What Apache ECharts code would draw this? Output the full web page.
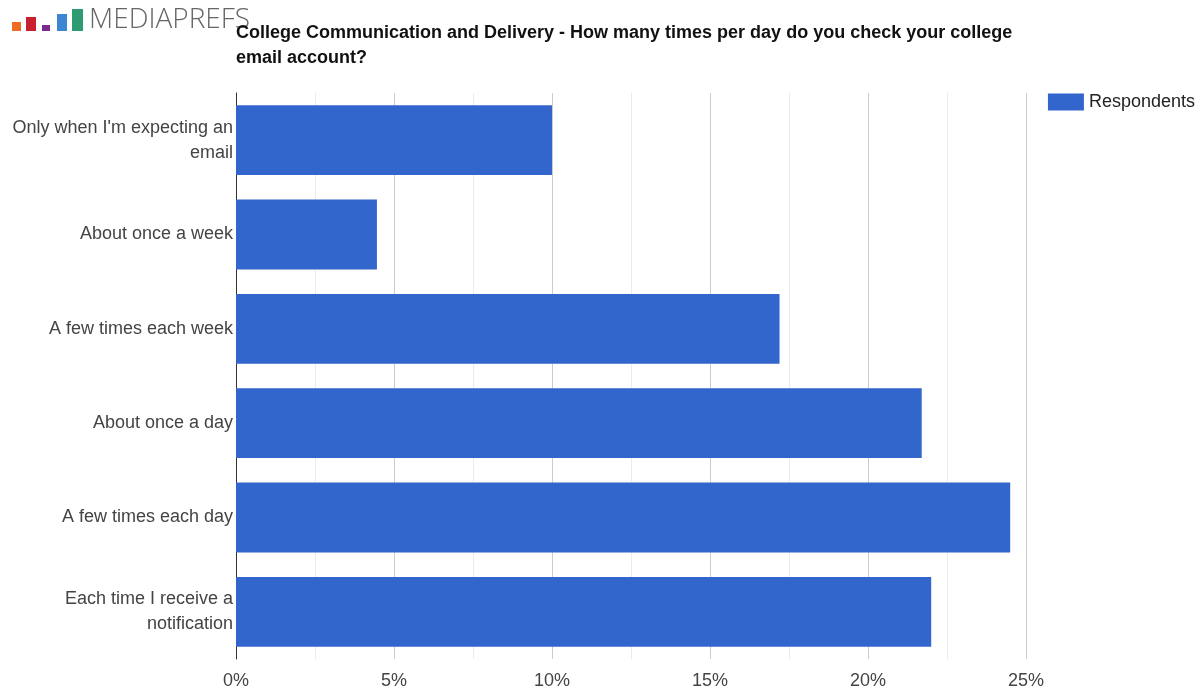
<!DOCTYPE html>
<html>
<head>
<meta charset="utf-8">
<script src="https://cdn.jsdelivr.net/npm/echarts@6/dist/echarts.min.js"></script>
<style>
html,body{margin:0;padding:0;background:#fff;}
#chart{width:1200px;height:690px;}
</style>
</head>
<body>
<div id="chart"></div>
<script>
// Answer options (top to bottom) and share of respondents in percent
const categories = [
  "Only when I'm expecting an\nemail",
  "About once a week",
  "A few times each week",
  "About once a day",
  "A few times each day",
  "Each time I receive a\nnotification"
];
const respondents = [10.0, 4.46, 17.2, 21.7, 24.5, 22.0];
const seriesName = "Respondents";
const titleText = "College Communication and Delivery - How many times per day do you check your college\nemail account?";
const brandText = "MEDIAPREFS";

const chart = echarts.init(document.getElementById('chart'));

// Logo: five small coloured bars followed by the brand name
const logoBars = [
  {x: 12, y: 22, w: 9, h: 9, c: '#ef6c23'},
  {x: 26, y: 17, w: 10, h: 14, c: '#c8202f'},
  {x: 42, y: 25, w: 8, h: 6, c: '#7b2b8f'},
  {x: 57, y: 14, w: 10, h: 17, c: '#3b86d3'},
  {x: 72, y: 9, w: 11, h: 22, c: '#2e9a6f'}
];
const logoGraphics = logoBars.map(b => ({
  type: 'rect', shape: {x: b.x, y: b.y, width: b.w, height: b.h},
  style: {fill: b.c}, silent: true
}));
logoGraphics.push({
  type: 'text', left: 89, top: 6,
  style: {text: brandText, font: '300 28px "Open Sans", "Liberation Sans", sans-serif', fill: '#666'}
});

chart.setOption({
  animation: false,
  textStyle: {fontFamily: '"Liberation Sans", Arial, sans-serif'},
  title: {
    text: titleText,
    left: 231, top: 16,
    textStyle: {fontSize: 18, fontWeight: 'bold', color: '#111', lineHeight: 25,
      fontFamily: '"Liberation Sans", Arial, sans-serif'}
  },
  graphic: logoGraphics,
  legend: {
    right: 0, top: 88,
    icon: 'rect',
    itemWidth: 36, itemHeight: 17, itemGap: 8,
    textStyle: {fontSize: 18, color: '#222'},
    data: [seriesName]
  },
  grid: {left: 236, right: 174, top: 93, bottom: 30, containLabel: false},
  xAxis: {
    type: 'value', min: 0, max: 25, interval: 5,
    axisLine: {show: false}, axisTick: {show: false},
    axisLabel: {formatter: '{value}%', fontSize: 18, color: '#444', margin: 13},
    splitLine: {lineStyle: {color: '#cccccc'}},
    minorTick: {show: false, splitNumber: 2},
    minorSplitLine: {show: true, lineStyle: {color: '#ebebeb'}}
  },
  yAxis: {
    type: 'category', data: categories, inverse: true,
    axisLine: {lineStyle: {color: '#333', width: 1}},
    axisTick: {show: false},
    axisLabel: {fontSize: 18, color: '#444', margin: 3, lineHeight: 25, align: 'right'}
  },
  series: [{
    name: seriesName, type: 'bar', data: respondents,
    barCategoryGap: '26%',
    itemStyle: {color: '#3366cc'}
  }]
});
</script>
</body>
</html>
